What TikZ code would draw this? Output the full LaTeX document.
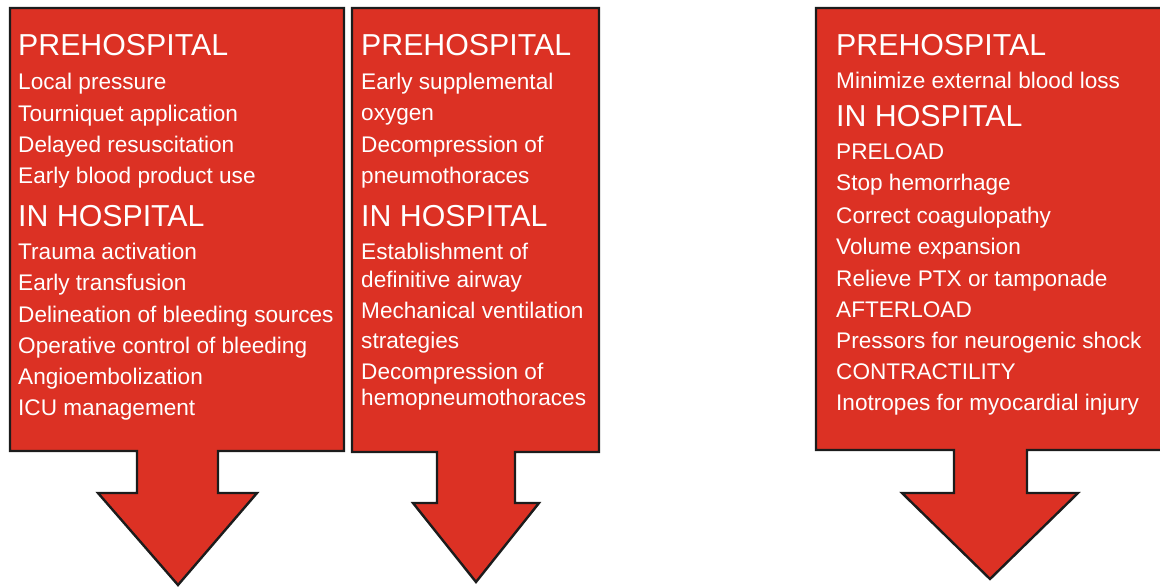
\documentclass[tikz,border=0pt]{standalone}
\usepackage{fontspec}
\setmainfont{Liberation Sans}
\definecolor{arrowred}{RGB}{220,49,36}
\definecolor{edgeink}{RGB}{28,28,28}
\begin{document}
\begin{tikzpicture}[x=1pt,y=-1pt,
  arrowshape/.style={fill=arrowred,draw=edgeink,line width=2.4pt,line join=miter},
  heading/.style={anchor=base west,inner sep=0pt,text=white,font=\fontsize{30.3}{34}\selectfont},
  item/.style={anchor=base west,inner sep=0pt,text=white,font=\fontsize{22.6}{26}\selectfont}]
\useasboundingbox (0,0) rectangle (1160,587);
\clip (0,0) rectangle (1160,587);

% Circulation: box with down arrow
\draw[arrowshape] (10,8) -- (344,8) -- (344,451) -- (218,451) -- (218,493) -- (257,493)
  -- (178,585) -- (98,493) -- (137,493) -- (137,451) -- (10,451) -- cycle;
% Breathing: box with down arrow
\draw[arrowshape] (352,8) -- (599,8) -- (599,452) -- (515,452) -- (515,503) -- (539,503)
  -- (476,582) -- (413,503) -- (437,503) -- (437,452) -- (352,452) -- cycle;
% Shock: box with down arrow, running off the right edge
\draw[arrowshape] (816,8) -- (1170,8) -- (1170,450) -- (1027,450) -- (1027,493) -- (1078,493)
  -- (990,579) -- (902,493) -- (954,493) -- (954,450) -- (816,450) -- cycle;

% First column
\node[heading] (a0) at (18,55) {PREHOSPITAL};
\node[item] (a1) at (18,89) {Local pressure};
\node[item] (a2) at (18,121) {Tourniquet application};
\node[item] (a3) at (18,152) {Delayed resuscitation};
\node[item] (a4) at (18,183) {Early blood product use};
\node[heading] (a5) at (18,226) {IN HOSPITAL};
\node[item] (a6) at (18,259) {Trauma activation};
\node[item] (a7) at (18,290) {Early transfusion};
\node[item] (a8) at (18,322) {Delineation of bleeding sources};
\node[item] (a9) at (18,353) {Operative control of bleeding};
\node[item] (a10) at (18,384) {Angioembolization};
\node[item] (a11) at (18,415) {ICU management};

% Second column
\node[heading] (b0) at (361,55) {PREHOSPITAL};
\node[item] (b1) at (361,89) {Early supplemental};
\node[item] (b2) at (361,120) {oxygen};
\node[item] (b3) at (361,152) {Decompression of};
\node[item] (b4) at (361,183) {pneumothoraces};
\node[heading] (b5) at (361,226) {IN HOSPITAL};
\node[item] (b6) at (361,259) {Establishment of};
\node[item] (b7) at (361,287) {definitive airway};
\node[item] (b8) at (361,318) {Mechanical ventilation};
\node[item] (b9) at (361,348) {strategies};
\node[item] (b10) at (361,379) {Decompression of};
\node[item] (b11) at (361,405) {hemopneumothoraces};

% Third column
\node[heading] (c0) at (836,55) {PREHOSPITAL};
\node[item] (c1) at (836,88) {Minimize external blood loss};
\node[heading] (c2) at (836,126) {IN HOSPITAL};
\node[item] (c3) at (836,159) {PRELOAD};
\node[item] (c4) at (836,190) {Stop hemorrhage};
\node[item] (c5) at (836,223) {Correct coagulopathy};
\node[item] (c6) at (836,254) {Volume expansion};
\node[item] (c7) at (836,286) {Relieve PTX or tamponade};
\node[item] (c8) at (836,317) {AFTERLOAD};
\node[item] (c9) at (836,348) {Pressors for neurogenic shock};
\node[item] (c10) at (836,379) {CONTRACTILITY};
\node[item] (c11) at (836,410) {Inotropes for myocardial injury};
\end{tikzpicture}
\end{document}
